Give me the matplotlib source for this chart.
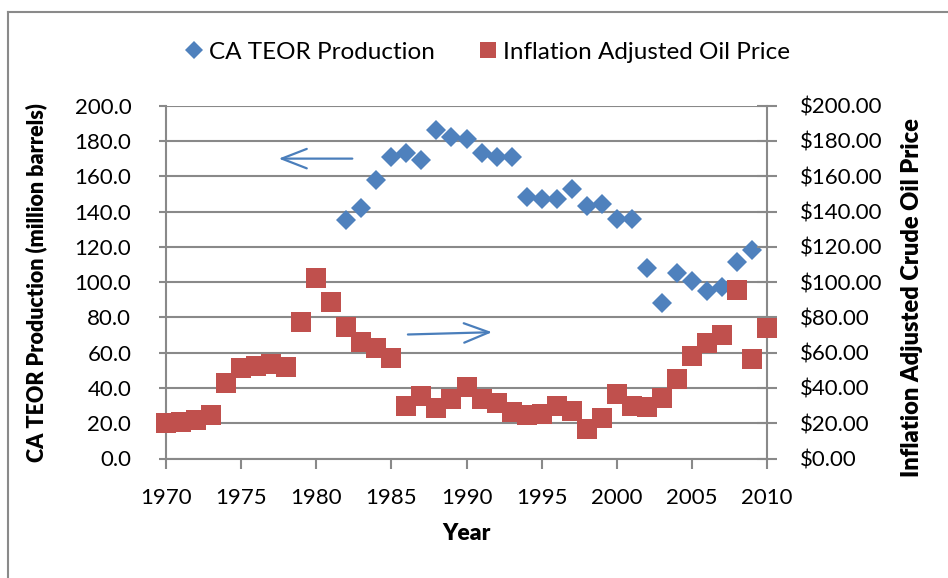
import matplotlib
matplotlib.use("Agg")
import matplotlib.pyplot as plt
from matplotlib.lines import Line2D
from matplotlib.ticker import FuncFormatter

# ---- data ----
prod_years = list(range(1982, 2010))
production = [135, 142, 158, 171, 173, 169.5, 186, 182, 181, 173, 171, 171,
              148, 147, 147, 153, 143, 144, 136, 136, 108, 88, 105, 100.5,
              95, 97, 111.5, 118]

price_years = list(range(1970, 2011))
oil_price = [20.2, 20.6, 22.1, 24.4, 42.9, 51.4, 52.3, 53.8, 52.0, 77.5,
             102.4, 88.8, 74.4, 66.1, 62.7, 56.7, 30.0, 35.7, 28.7, 33.8,
             40.4, 33.8, 31.5, 26.5, 24.4, 25.5, 30.0, 26.8, 16.8, 22.7,
             36.3, 30.0, 29.1, 34.4, 45.2, 58.0, 65.5, 69.9, 95.8, 56.5, 73.7]

x_ticks = list(range(1970, 2011, 5))
y_ticks = list(range(0, 201, 20))

BLUE = "#4F81BD"
RED = "#C0504D"
GRID = "#898989"

plt.rcParams['font.family'] = ['Lato', 'DejaVu Sans']
plt.rcParams['font.size'] = 16

fig = plt.figure(figsize=(9.48, 5.78), dpi=100)
W, H = 948, 578
L, R, T, B = 166, 767, 105.7, 458.5
ax1 = fig.add_axes([L / W, 1 - B / H, (R - L) / W, (B - T) / H])
ax2 = ax1.twinx()

# border of chart area
fig.add_artist(Line2D([8 / W, 1.0], [1 - 12 / H, 1 - 12 / H], color="#8A8A8A", lw=1.5,
                      transform=fig.transFigure))
fig.add_artist(Line2D([8 / W, 8 / W], [0.0, 1 - 12 / H], color="#8A8A8A", lw=1.5,
                      transform=fig.transFigure))

ax1.set_xlim(1970, 2010)
ax1.set_ylim(0, 200)
ax2.set_ylim(0, 200)
ax1.set_xticks(x_ticks)
ax1.set_yticks(y_ticks)
ax2.set_yticks(y_ticks)
ax1.yaxis.set_major_formatter(FuncFormatter(lambda v, p: f"{v:.1f}"))
ax2.yaxis.set_major_formatter(FuncFormatter(lambda v, p: f"${v:.2f}"))

ax1.grid(axis='y', color=GRID, lw=1.5)
ax1.set_axisbelow(True)
for ax in (ax1, ax2):
    for s in ax.spines.values():
        s.set_color(GRID)
        s.set_linewidth(1.5)
    ax.spines['top'].set_visible(False)
ax1.spines['right'].set_visible(False)
ax2.spines['left'].set_visible(False)
ax2.spines['bottom'].set_visible(False)

ax1.tick_params(axis='y', direction='out', length=5, width=1.5, color=GRID, pad=20,
                labelsize=16)
ax1.tick_params(axis='x', direction='out', length=7, width=1.5, color=GRID, pad=14,
                labelsize=16)
ax2.tick_params(axis='y', direction='inout', length=14, width=1.5, color=GRID, pad=17,
                labelsize=16)

ax1.plot(prod_years, production, linestyle='none', marker='D', markersize=10.2,
         color=BLUE, markeredgewidth=0, clip_on=False, zorder=3,
         label='CA TEOR Production')
ax2.plot(price_years, oil_price, linestyle='none', marker='s', markersize=14.4,
         color=RED, markeredgewidth=0, clip_on=False, zorder=3,
         label='Inflation Adjusted Oil Price')

ax1.set_ylabel('CA TEOR Production (million barrels)', fontweight='heavy', fontsize=15.5)
ax2.set_ylabel('Inflation Adjusted Crude Oil Price', fontweight='heavy', fontsize=17)
ax1.set_xlabel('Year', fontweight='heavy', fontsize=16.5)
ax1.yaxis.set_label_coords((47 - L) / (R - L), 0.5)
ax2.yaxis.set_label_coords((901 - L) / (R - L), 0.456)
ax1.xaxis.set_label_coords(0.5, -(523 - B) / (B - T))

# arrows
ax1.annotate('', xy=(1977.5, 170), xytext=(1982.4, 170),
             arrowprops=dict(arrowstyle='->,head_length=1.8,head_width=0.7',
                             color='#4A7EBB', lw=1.6, mutation_scale=10,
                             shrinkA=0, shrinkB=0))
ax1.annotate('', xy=(1991.7, 71.6), xytext=(1986.1, 70.3),
             arrowprops=dict(arrowstyle='->,head_length=1.8,head_width=0.7',
                             color='#4A7EBB', lw=1.6, mutation_scale=10,
                             shrinkA=0, shrinkB=0))

handles = [Line2D([], [], linestyle='none', marker='D', markersize=9, color=BLUE,
                  markeredgewidth=0),
           Line2D([], [], linestyle='none', marker='s', markersize=12, color=RED,
                  markeredgewidth=0)]
fig.legend(handles, ['CA TEOR Production', 'Inflation Adjusted Oil Price'],
           loc='center', bbox_to_anchor=(488 / W, 1 - 52 / H), ncol=2, frameon=False,
           handlelength=0.7, handletextpad=0.25, columnspacing=1.85, fontsize=17.5)

fig.savefig('out.png', dpi=100)
